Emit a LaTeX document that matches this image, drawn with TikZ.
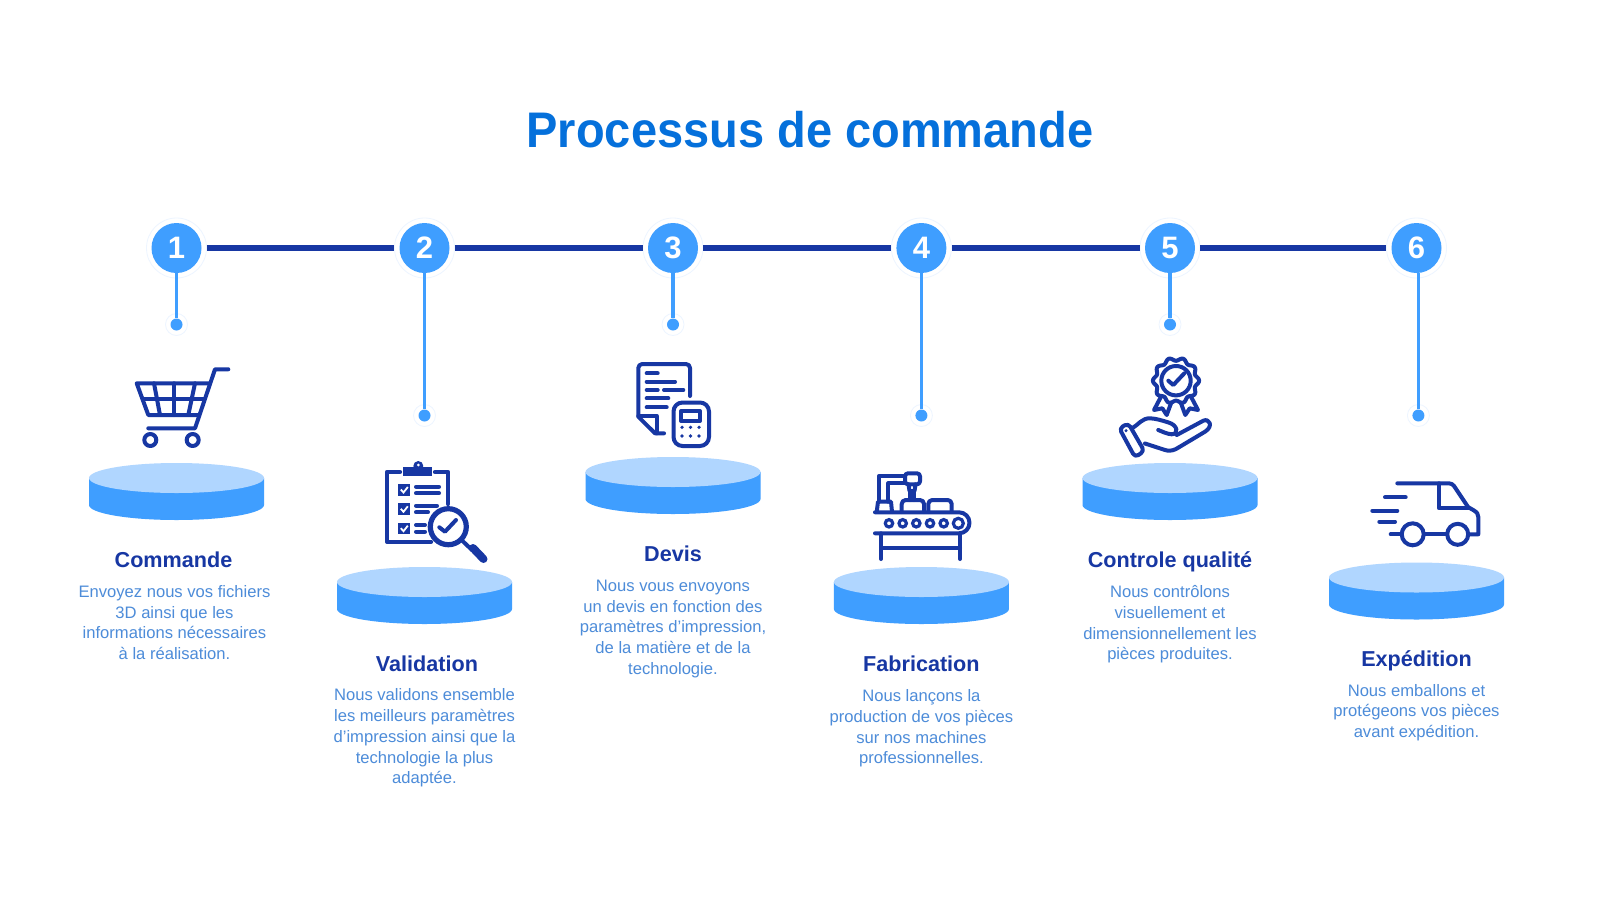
\documentclass[tikz,border=0pt]{standalone}
\usepackage{fontspec}
\setmainfont{Liberation Sans}
\newfontfamily\titlefont[FakeStretch=0.94]{Liberation Sans}
\definecolor{navy}{HTML}{1737A3}
\definecolor{azure}{HTML}{3F9EFF}
\definecolor{pale}{HTML}{B0D6FF}
\definecolor{halo}{HTML}{EDF5FF}
\definecolor{titleblue}{HTML}{0570DB}
\definecolor{bodyblue}{HTML}{4D8CD9}
\newcommand{\podium}[2]{%
  \fill[azure] (#1-87.5,#2) -- (#1-87.5,#2+27) arc (180:0:87.5 and 15) -- (#1+87.5,#2) -- cycle;
  \fill[pale] (#1,#2) ellipse (87.5 and 15);
}
\begin{document}
\begin{tikzpicture}[x=0.5pt,y=-0.5pt,
    numnode/.style={circle, fill=azure, minimum size=25pt, inner sep=0pt, text=white, font=\fontsize{15.5}{15.5}\selectfont\bfseries},
    ringnode/.style={circle, draw=halo, line width=0.4pt, minimum size=30pt, inner sep=0pt},
    dotnode/.style={circle, fill=azure, minimum size=6pt, inner sep=0pt},
    dotring/.style={circle, draw=halo, line width=0.4pt, minimum size=11pt, inner sep=0pt},
    headnode/.style={text=navy, font=\fontsize{10.8}{13}\selectfont\bfseries, inner sep=0pt, anchor=base},
    bodynode/.style={text=bodyblue, font=\fontsize{8.3}{10.35}\selectfont, align=center, inner sep=0pt},
    trackline/.style={navy, line width=2.8pt},
    stemline/.style={azure, line width=1.9pt},
    icon/.style={navy, line width=2pt, line cap=round, line join=round}]

\useasboundingbox (0,0) rectangle (1600,900);
\fill[white] (0,0) rectangle (1600,900);

\node[text=titleblue, font=\titlefont\fontsize{25}{25}\selectfont\bfseries, inner sep=0pt] (title) at (810,130) {Processus de commande};

% numbered circles
\node[numnode] (n1) at (176.5,248) {1};
\node[numnode] (n2) at (424.5,248) {2};
\node[numnode] (n3) at (673,248) {3};
\node[numnode] (n4) at (921.4,248) {4};
\node[numnode] (n5) at (1170,248) {5};
\node[numnode] (n6) at (1416.5,248) {6};
\node[ringnode] (r1) at (n1) {};
\node[ringnode] (r2) at (n2) {};
\node[ringnode] (r3) at (n3) {};
\node[ringnode] (r4) at (n4) {};
\node[ringnode] (r5) at (n5) {};
\node[ringnode] (r6) at (n6) {};

\draw[trackline] (r1) -- (r2);
\draw[trackline] (r2) -- (r3);
\draw[trackline] (r3) -- (r4);
\draw[trackline] (r4) -- (r5);
\draw[trackline] (r5) -- (r6);

% dots below
\node[dotnode] (d1) at (176.5,324.5) {};
\node[dotnode] (d2) at (424.5,415.5) {};
\node[dotnode] (d3) at (673,324.5) {};
\node[dotnode] (d4) at (921.4,415.5) {};
\node[dotnode] (d5) at (1170,324.5) {};
\node[dotnode] (d6) at (1418.4,415.5) {};
\node[dotring] at (d1) {};
\node[dotring] at (d2) {};
\node[dotring] at (d3) {};
\node[dotring] at (d4) {};
\node[dotring] at (d5) {};
\node[dotring] at (d6) {};

\draw[stemline] (n1) -- (d1);
\draw[stemline] (n2) -- (d2);
\draw[stemline] (n3) -- (d3);
\draw[stemline] (n4) -- (d4);
\draw[stemline] (n5) -- (d5);
\draw[stemline] (d6 |- n6.south) -- (d6);

% podiums
\podium{176.5}{478}
\podium{424.5}{582}
\podium{673}{472}
\podium{921.4}{582}
\podium{1170}{478}
\podium{1416.5}{577.5}

% cart
\draw[icon] (228.3,369.3) -- (215,369.3) -- (195,428.3) -- (148.3,428.3);
\draw[icon] (208.3,383.3) -- (136.7,383.3) -- (148.3,415) -- (198.3,415);
\draw[icon] (143.3,399) -- (203.3,399);
\draw[icon] (154,383.3) -- (160,415);
\draw[icon] (174.3,383.3) -- (174.3,415);
\draw[icon] (195,383.3) -- (188.3,415);
\draw[icon] (150.3,440) circle (6);
\draw[icon] (192.7,440) circle (6);

% clipboard and lens
\draw[icon, line width=2.1pt] (400,472) -- (387,472) -- (387,541.7) -- (431,541.7);
\draw[icon, line width=2.1pt] (435,472) -- (448,472) -- (448,504);
\fill[navy] (403.3,467) rectangle (432.3,476);
\fill[navy] (418.3,466) circle (5);
\fill[white] (418.3,465) circle (1.5);
\foreach \yy in {484,503.3,522.7} {
  \fill[navy] (398.3,\yy) rectangle (410,\yy+11.7);
  \draw[white, line width=0.9pt] (400.8,\yy+5.5) -- (403.5,\yy+8.5) -- (407.8,\yy+3);
}
\draw[icon] (416,486.7) -- (439,486.7);
\draw[icon] (416,493.3) -- (439,493.3);
\draw[icon] (416,505.7) -- (437,505.7);
\draw[icon] (416,512.3) -- (428,512.3);
\draw[icon] (416,525) -- (425,525);
\draw[icon] (416,531.7) -- (425,531.7);
\draw[navy, line width=2.6pt] (448.3,526.7) circle (18);
\draw[icon] (439.3,527.3) -- (445,531.7) -- (456,520);
\draw[icon] (461,539.5) -- (472,550);
\draw[navy, line width=4pt, line cap=round] (473,548) -- (483.5,559);

% document and calculator
\draw[icon] (664,433.3) -- (655,433.3) -- (638.3,416.7) -- (638.3,368) arc (180:270:4) -- (686,364) arc (270:360:4) -- (690,396);
\draw[icon] (638.3,416) -- (656.7,416) -- (656.7,433.3);
\draw[icon] (646.7,373.3) -- (657.7,373.3);
\draw[icon] (646.7,381.7) -- (675,381.7);
\draw[icon] (646.7,390) -- (657.7,390);
\draw[icon] (664,390) -- (683.3,390);
\draw[icon] (646.7,398.3) -- (668.3,398.3);
\draw[icon] (646.7,407.3) -- (666.7,407.3);
\draw[icon, rounded corners=4.5] (673.5,402.5) rectangle (709,446);
\draw[icon] (681,411) rectangle (700,421);
\foreach \xx in {682,690.5,699} {
  \fill[navy] (\xx,427.3) circle (1.8);
  \fill[navy] (\xx,436) circle (1.8);
}

% conveyor
\draw[icon] (879.3,501.7) -- (879.3,475.7) -- (905,475.7);
\draw[icon] (888.3,501.7) -- (888.3,483.3) -- (905,483.3);
\draw[icon, rounded corners=1.5] (905,473.3) rectangle (920,484.3);
\draw[icon] (908.5,484.3) -- (909.5,491) -- (914.5,491) -- (915.5,484.3);
\draw[icon] (910,491) -- (910,500);
\draw[icon] (914,491) -- (914,500);
\draw[icon] (876.7,512) -- (878,501.7) -- (891,501.7) -- (892,512);
\draw[icon, rounded corners=2] (901.7,512) -- (901.7,500) -- (924,500) -- (924,512);
\draw[icon, rounded corners=2] (928.3,512) -- (928.3,500) -- (951.7,500) -- (951.7,512);
\draw[icon] (875,512.3) -- (959,512.3) arc (-90:90:10.5) -- (875,533.3);
\foreach \xx in {889,902.7,916.3,930,943.7} {
  \draw[navy, line width=1.6pt] (\xx,523.3) circle (3.7);
}
\draw[navy, line width=1.6pt] (958.3,523.3) circle (5);
\draw[icon] (881,533.3) -- (881,559);
\draw[icon] (960,533.3) -- (960,559);
\draw[icon] (881,547.7) -- (960,547.7);

% rosette and hand
\draw[icon] plot[domain=0:360,samples=121] ({1176+(21.5+1.6*cos(10*\x))*cos(\x)},{380.7+(21.5+1.6*cos(10*\x))*sin(\x)}) -- cycle;
\draw[icon] (1176,380.7) circle (14.7);
\draw[icon] (1168.3,380.7) -- (1173.3,385) -- (1184.3,373.3);
\draw[icon] (1161,396.7) -- (1154,410) -- (1162.3,408.3) -- (1166.7,415) -- (1171,403.3);
\draw[icon] (1191,396.7) -- (1198,410) -- (1189.7,408.3) -- (1185.3,415) -- (1181,403.3);
\draw[icon, rounded corners=2] (1119.3,428.3) -- (1128.3,423.3) -- (1144.3,451) -- (1135,457.3) -- cycle;
\fill[navy] (1126,430.7) circle (1.7);
\draw[icon] (1132.5,428) .. controls (1138,425) and (1142,418) .. (1150,418.3) .. controls (1156,418.5) and (1162,420.5) .. (1168,422.3) .. controls (1178,425) and (1179,434) .. (1171.7,434.3) .. controls (1167,434) and (1162,431.5) .. (1158.3,430);
\draw[icon] (1176.7,435) -- (1203.3,420.7) .. controls (1209,418) and (1214,426) .. (1205,431.7) -- (1176,449) .. controls (1172,451) and (1168,451) .. (1165,450) -- (1145,443.5);

% truck
\draw[icon] (1397.3,483.3) -- (1449,483.3) .. controls (1451,483.3) and (1453,484.5) .. (1454,486) -- (1468,507) -- (1474,510.5) .. controls (1477,512.5) and (1478.3,514) .. (1478.3,517) -- (1478.3,534.3) -- (1468.5,534.3);
\draw[icon] (1439,483.3) -- (1439,508.3) -- (1468,508.3);
\draw[icon] (1385,497.3) -- (1405.7,497.3);
\draw[icon] (1372.3,510.7) -- (1397.3,510.7);
\draw[icon] (1379.3,521.7) -- (1395,521.7);
\draw[icon] (1390.7,534.3) -- (1401,534.3);
\draw[icon] (1412.7,534.3) circle (11);
\draw[icon] (1457.7,534.3) circle (10.5);
\draw[icon] (1424,534.3) -- (1447,534.3);

% texts
\node[headnode] (h1) at (173.5,567.4) {Commande};
\node[bodynode] (b1) at (174.5,622.5) {Envoyez nous vos fichiers\\3D ainsi que les\\informations nécessaires\\à la réalisation.};
\node[headnode] (h2) at (427,671.5) {Validation};
\node[bodynode] (b2) at (424.5,738) {Nous validons ensemble\\les meilleurs paramètres\\d’impression ainsi que la\\technologie la plus\\adaptée.};
\node[headnode] (h3) at (673,561.2) {Devis};
\node[bodynode] (b3) at (673,629) {Nous vous envoyons\\un devis en fonction des\\paramètres d’impression,\\de la matière et de la\\technologie.};
\node[headnode] (h4) at (921.4,671.5) {Fabrication};
\node[bodynode] (b4) at (921.4,728.5) {Nous lançons la\\production de vos pièces\\sur nos machines\\professionnelles.};
\node[headnode] (h5) at (1170,567.4) {Controle qualité};
\node[bodynode] (b5) at (1170,624.5) {Nous contrôlons\\visuellement et\\dimensionnellement les\\pièces produites.};
\node[headnode] (h6) at (1416.5,666.2) {Expédition};
\node[bodynode] (b6) at (1416.5,712.5) {Nous emballons et\\protégeons vos pièces\\avant expédition.};

\end{tikzpicture}
\end{document}
